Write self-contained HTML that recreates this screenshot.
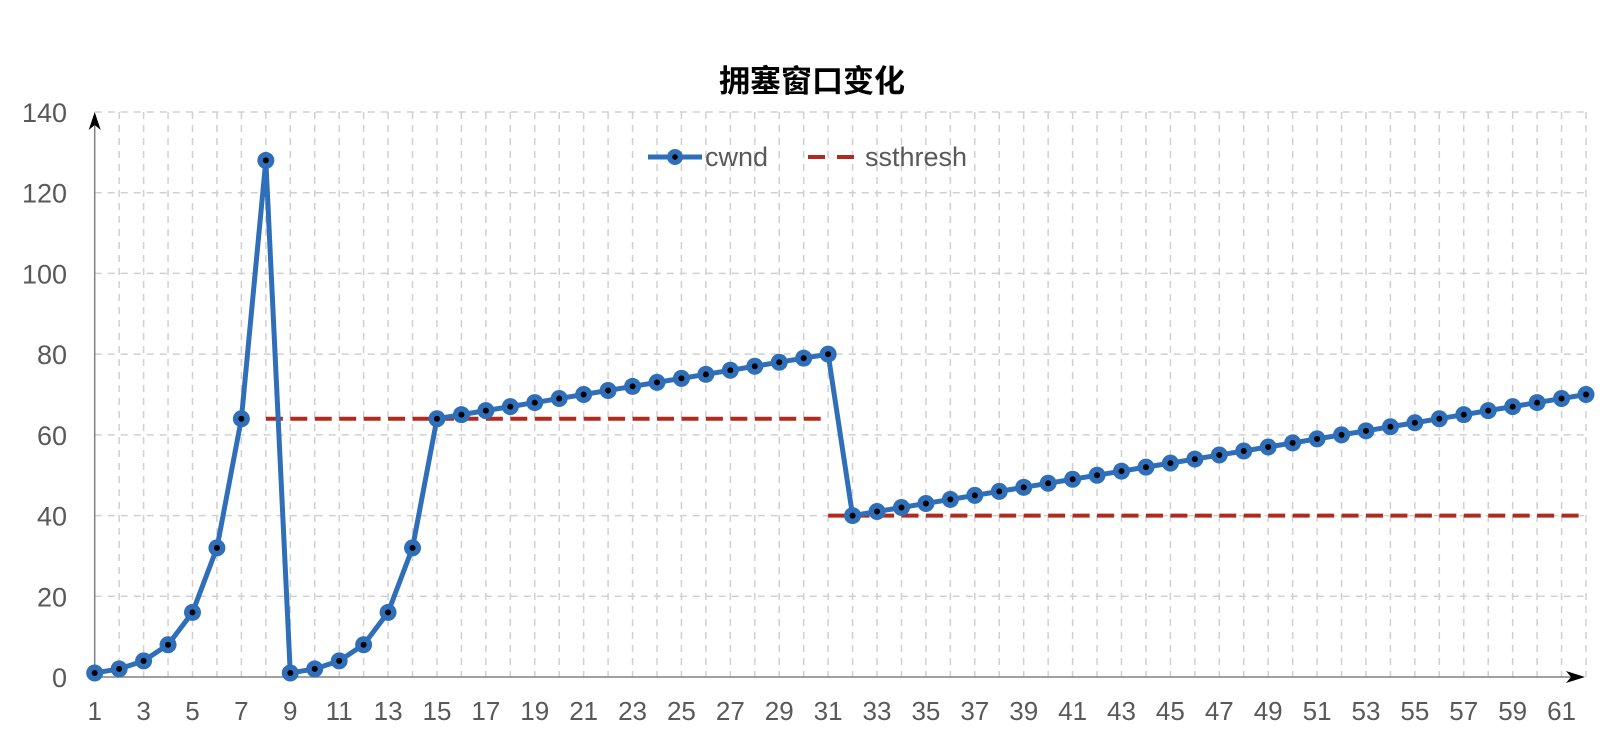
<!DOCTYPE html>
<html><head><meta charset="utf-8">
<style>
html,body{margin:0;padding:0;background:#fff;}
svg{display:block;font-family:"Liberation Sans","Noto Sans CJK SC",sans-serif;}
</style></head>
<body>
<svg id="chart" width="1624" height="740" viewBox="0 0 1624 740" xmlns="http://www.w3.org/2000/svg">
<text x="812" y="92" text-anchor="middle" font-size="31" font-weight="bold" fill="#000" font-family="'Liberation Sans','Noto Sans CJK SC',sans-serif">拥塞窗口变化</text>
<g id="grid"></g>
<g id="axes"></g>
<g id="series"></g>
<g>
  <g>
    <line x1="648" y1="157" x2="702" y2="157" stroke="#2f6fba" stroke-width="5"/>
    <circle cx="675" cy="157" r="8" fill="#2f6fba"/>
    <circle cx="675" cy="157" r="2.8" fill="#000"/>
    <text x="705" y="166" font-size="27" fill="#595959">cwnd</text>
  </g>
  <g>
    <line x1="808" y1="157" x2="862" y2="157" stroke="#b22a1e" stroke-width="4" stroke-dasharray="17,12"/>
    <text x="865" y="166" font-size="27" fill="#595959">ssthresh</text>
  </g>
</g>
</svg>
<script>
const categories = Array.from({length:62},(_,i)=>i+1);
const cwnd = [1,2,4,8,16,32,64,128,1,2,4,8,16,32,64,65,66,67,68,69,70,71,72,73,74,75,76,77,78,79,80,
  40,41,42,43,44,45,46,47,48,49,50,51,52,53,54,55,56,57,58,59,60,61,62,63,64,65,66,67,68,69,70];
const ssthresh = [null,null,null,null,null,null,null,64,64,64,64,64,64,64,64,64,64,64,64,64,64,64,64,64,64,64,64,64,64,64,
  40,40,40,40,40,40,40,40,40,40,40,40,40,40,40,40,40,40,40,40,40,40,40,40,40,40,40,40,40,40,40,40];
const yTicks = [0,20,40,60,80,100,120,140];

const NS="http://www.w3.org/2000/svg";
const X0=94.7, X1=1586, Y0=677, Y1=112, YMAX=140;
const xs=i=>X0+(X1-X0)*(i)/(categories.length-1);
const ys=v=>Y0-(Y0-Y1)*v/YMAX;
function mk(tag,attrs,parent){const e=document.createElementNS(NS,tag);for(const k in attrs)e.setAttribute(k,attrs[k]);parent.appendChild(e);return e;}
const grid=document.getElementById('grid'), axes=document.getElementById('axes'), series=document.getElementById('series');

yTicks.forEach(t=>{
  if(t>0){const l=mk('line',{x1:X0,y1:ys(t),x2:X1,y2:ys(t),stroke:'#d0d0d0','stroke-width':1.5,'stroke-dasharray':'7,6'},grid);
  
  }
  const tx=mk('text',{x:67,y:ys(t)+10,'text-anchor':'end','font-size':27,fill:'#595959'},axes);
  tx.textContent=t;
  
  
});
categories.forEach((c,i)=>{
  if(i>0){const l=mk('line',{x1:xs(i),y1:Y1,x2:xs(i),y2:Y0,stroke:'#d0d0d0','stroke-width':1.5,'stroke-dasharray':'7,6'},grid);
  
  }
  if(c%2===1){const tx=mk('text',{x:xs(i),y:720,'text-anchor':'middle','font-size':26,fill:'#595959'},axes);
  tx.textContent=c;
  
  }
});
const xa=mk('line',{x1:X0,y1:Y0,x2:1580,y2:Y0,stroke:'#808080','stroke-width':1.5},axes);


const xarr=mk('path',{d:`M1566 ${Y0-6} L1585 ${Y0} L1566 ${Y0+6} L1571 ${Y0} Z`,fill:'#000'},axes);


const ya=mk('line',{x1:X0,y1:Y0,x2:X0,y2:118,stroke:'#808080','stroke-width':1.5},axes);


const yarr=mk('path',{d:`M${X0-6} 130 L${X0} 112 L${X0+6} 130 L${X0} 125 Z`,fill:'#000'},axes);



let d='';
for(let i=0;i<ssthresh.length-1;i++){
  if(ssthresh[i]==null)continue;
  d+=`M${xs(i)} ${ys(ssthresh[i])} L${xs(i+1)} ${ys(ssthresh[i])} `;
}
const sp=mk('path',{d:d,stroke:'#b22a1e','stroke-width':4,fill:'none','stroke-dasharray':'17,12'},series);



const cp=mk('polyline',{points:cwnd.map((v,i)=>`${xs(i)},${ys(v)}`).join(' '),stroke:'#2f6fba','stroke-width':5,fill:'none','stroke-linejoin':'round'},series);


cwnd.forEach((v,i)=>{
  const g=mk('g',{},series);
  
  
  mk('circle',{cx:xs(i),cy:ys(v),r:8.5,fill:'#2f6fba'},g);
  mk('circle',{cx:xs(i),cy:ys(v),r:3,fill:'#000'},g);
});
</script>
</body></html>
